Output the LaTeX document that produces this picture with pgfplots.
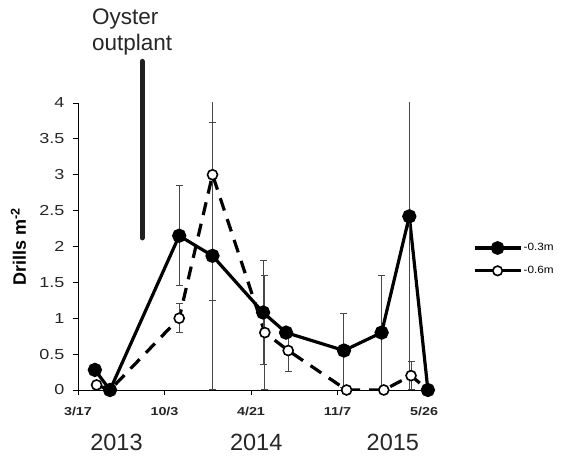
\documentclass[border=0pt]{standalone}
\usepackage{fontspec}
\setmainfont{Liberation Sans}
\newfontfamily\tickfont[FakeStretch=1.24]{Liberation Sans}
\newfontfamily\datefont[FakeStretch=1.25]{Liberation Sans}
\newfontfamily\legfont[FakeStretch=1.12]{Liberation Sans}
\usepackage{pgfplots}
\pgfplotsset{compat=1.18}
\usepackage{pgfplotstable}

\pgfplotstableread{
x y e
39 0.28 0
74 0 0
234 2.15 0.70
311 1.87 1.86
428 1.08 0.72
481 0.80 0
615 0.55 0.52
702 0.80 0.80
766 2.42 2.60
809 0 0
}\shallow

\pgfplotstableread{
x y e
43 0.07 0
74 0 0
234 1.00 0.20
311 3.00 1.75
432 0.80 0.80
486 0.55 0.29
621 0 0
707 0 0
770 0.20 0.20
809 0 0
}\deep

\begin{document}
\begin{tikzpicture}
\useasboundingbox (-78pt,-67pt) rectangle (485pt,390pt);
\begin{axis}[
  at={(0,0)}, anchor=south west,
  scale only axis, width=352.5pt, height=287pt,
  xmin=0, xmax=815, ymin=0, ymax=4,
  axis lines=left,
  axis line style={-, line width=0.9pt, black},
  xtick={0,200,400,600,800},
  xticklabels={3/17,10/3,4/21,11/7,5/26},
  ytick={0,0.5,1,1.5,2,2.5,3,3.5,4},
  yticklabels={0,0.5,1,1.5,2,2.5,3,3.5,4},
  tick align=outside,
  major tick length=5pt,
  tick style={line width=0.9pt, black},
  /pgf/number format/assume math mode=true,
  x tick label style={font=\datefont\bfseries\fontsize{11.5}{13}\selectfont, yshift=-9pt, text=black!85},
  y tick label style={font=\tickfont\fontsize{14.5}{16}\selectfont, xshift=-5pt, text=black!85},
  ylabel={\textbf{Drills m\textsuperscript{-2}}},
  ylabel style={at={(axis description cs:-0.169,0.5)}, anchor=center, font=\fontsize{18}{20}\selectfont},
  legend style={draw=none, fill=none, at={(1.12,0.455)}, anchor=west,
    font=\legfont\fontsize{10.5}{12}\selectfont, row sep=11pt, inner sep=0pt,
    nodes={inner sep=1.5pt}},
  legend cell align=left,
  reverse legend,
  legend image code/.code={\draw[#1, solid, every mark/.append style={scale=0.95}, mark repeat=2, mark phase=2] plot coordinates {(0pt,0pt) (23pt,0pt) (46pt,0pt)};},
  error bars/error bar style={solid, line width=1pt, black!72},
  error bars/error mark options={solid, rotate=90, mark size=3.5pt, line width=1pt, black!72},
]
\addplot[black, line width=3.2pt, dash pattern=on 13pt off 9pt,
  mark=*, mark size=5pt, mark options={solid, fill=white, draw=black, line width=1.6pt},
  error bars/.cd, y dir=both, y explicit]
  table[x=x, y=y, y error=e] {\deep};
\addplot[black, line width=3.2pt,
  mark=*, mark size=5.5pt, mark options={solid, fill=black, draw=black},
  error bars/.cd, y dir=both, y explicit]
  table[x=x, y=y, y error=e] {\shallow};
\legend{-0.6m, -0.3m}
\end{axis}
\begin{axis}[
  at={(0,0)}, anchor=south west,
  scale only axis, width=352.5pt, height=287pt,
  xmin=0, xmax=815, ymin=0, ymax=4,
  hide axis, clip=false,
]
\addplot[line width=5pt, color=black!88, line cap=round] coordinates {(148,2.12) (148,4.58)};
\node[anchor=north west, align=left, inner sep=0pt, font=\fontsize{22.5}{26}\selectfont, text=black!85] at (axis cs:32,5.31) {Oyster\\outplant};
\node[font=\fontsize{23.5}{26}\selectfont, text=black!85] at (axis cs:89,-0.73) {2013};
\node[font=\fontsize{23.5}{26}\selectfont, text=black!85] at (axis cs:412,-0.73) {2014};
\node[font=\fontsize{23.5}{26}\selectfont, text=black!85] at (axis cs:728,-0.73) {2015};
\end{axis}
\end{tikzpicture}
\end{document}
